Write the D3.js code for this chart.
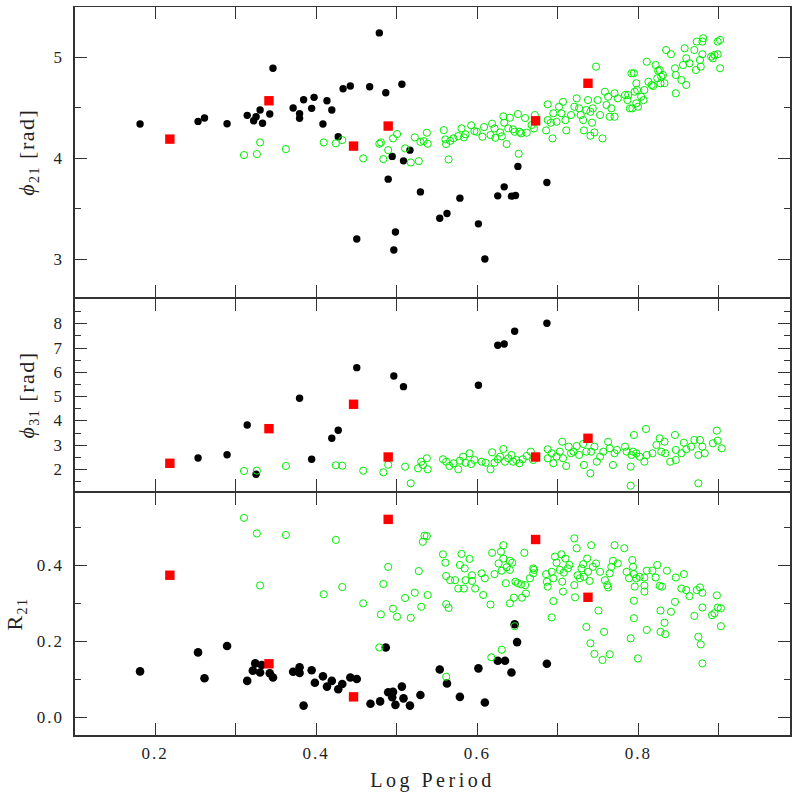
<!DOCTYPE html>
<html><head><meta charset="utf-8">
<script src="https://cdn.jsdelivr.net/npm/d3@7"></script>
<style>body{margin:0;background:#fff}</style>
</head><body>
<script>
// ---------------- DATA ----------------
const xTickValues = [0.2, 0.3, 0.4, 0.5, 0.6, 0.7, 0.8, 0.9];
const xTickLabels = [0.2, 0.4, 0.6, 0.8];
const xLabel = "Log Period";

const phi21Major = [3, 4, 5], phi21Minor = [3.5, 4.5];
const phi31Major = [2, 3, 4, 5, 6, 7, 8], phi31Minor = [1.5, 2.5, 3.5, 4.5, 5.5, 6.5, 7.5, 8.5];
const r21Major = [0, 0.2, 0.4], r21Minor = [0.1, 0.3, 0.5];

// red squares (Log P, phi21, phi31, R21)
const redLogP  = [0.219, 0.342, 0.447, 0.490, 0.673, 0.738];
const redPhi21 = [4.185, 4.564, 4.116, 4.314, 4.366, 4.737];
const redPhi31 = [2.235, 3.660, 4.665, 2.494, 2.494, 3.264];
const redR21   = [0.374, 0.141, 0.054, 0.521, 0.468, 0.316];

// black filled circles [logP, value]
const blackPhi21 = [
[0.182,4.334],[0.254,4.360],[0.262,4.393],[0.290,4.337],[0.315,4.420],[0.323,4.366],[0.326,4.406],
[0.331,4.472],[0.334,4.341],[0.343,4.433],[0.347,4.885],[0.372,4.492],[0.380,4.436],[0.380,4.390],
[0.385,4.574],[0.395,4.489],[0.398,4.598],[0.409,4.334],[0.414,4.564],[0.420,4.472],[0.428,4.208],
[0.434,4.683],[0.443,4.710],[0.451,3.198],[0.467,4.703],[0.479,5.235],[0.487,4.644],[0.490,3.789],
[0.495,4.014],[0.499,3.267],[0.497,3.089],[0.507,4.727],[0.517,4.076],[0.509,3.970],[0.530,3.663],
[0.554,3.403],[0.563,3.449],[0.579,3.601],[0.602,3.347],[0.610,3.000],[0.626,3.624],[0.634,3.713],
[0.643,3.621],[0.648,3.628],[0.651,3.915],[0.687,3.756]];

const blackPhi31 = [
[0.254,2.453],[0.290,2.589],[0.315,3.812],[0.326,1.782],[0.380,4.912],[0.395,2.400],[0.420,3.264],
[0.428,3.594],[0.451,6.172],[0.497,5.830],[0.509,5.390],[0.602,5.447],[0.626,7.095],[0.634,7.148],
[0.647,7.671],[0.687,8.001]];

const blackR21 = [
[0.182,0.121],[0.254,0.171],[0.262,0.103],[0.290,0.188],[0.315,0.096],[0.322,0.123],[0.325,0.142],
[0.331,0.118],[0.333,0.138],[0.343,0.116],[0.347,0.105],[0.372,0.120],[0.380,0.132],[0.380,0.117],
[0.385,0.031],[0.395,0.124],[0.399,0.091],[0.409,0.108],[0.414,0.081],[0.420,0.096],[0.428,0.074],
[0.433,0.088],[0.443,0.105],[0.451,0.101],[0.468,0.036],[0.480,0.042],[0.487,0.184],[0.490,0.066],
[0.496,0.067],[0.495,0.053],[0.499,0.033],[0.507,0.081],[0.509,0.050],[0.517,0.031],[0.530,0.059],
[0.554,0.126],[0.563,0.089],[0.579,0.054],[0.602,0.129],[0.610,0.039],[0.626,0.149],[0.635,0.149],
[0.643,0.118],[0.650,0.198],[0.647,0.245],[0.687,0.141]];

// green open circles [logP, value]
const greenPhi21 = [
[0.311,4.027],[0.327,4.037],[0.331,4.152],[0.363,4.086],[0.410,4.152],[0.425,4.143],[0.433,4.175],
[0.459,3.994],[0.479,4.139],[0.481,4.152],[0.490,4.076],[0.484,3.987],[0.496,4.192],[0.501,4.235],
[0.511,4.093],[0.518,3.954],[0.528,3.967],[0.523,4.202],[0.530,4.158],[0.534,4.165],[0.538,4.248],
[0.539,4.139],[0.559,4.274],[0.561,4.182],[0.562,4.136],[0.565,3.984],[0.567,4.168],[0.571,4.192],
[0.577,4.215],[0.581,4.291],[0.584,4.202],[0.586,4.232],[0.593,4.321],[0.597,4.264],[0.600,4.257],
[0.607,4.208],[0.609,4.304],[0.617,4.225],[0.619,4.337],[0.622,4.291],[0.623,4.198],[0.629,4.251],
[0.631,4.212],[0.633,4.410],[0.634,4.347],[0.637,4.136],[0.639,4.291],[0.641,4.396],[0.645,4.281],
[0.647,4.257],[0.651,4.433],[0.652,4.040],[0.653,4.257],[0.655,4.242],[0.660,4.393],[0.662,4.248],
[0.668,4.324],[0.671,4.291],[0.686,4.271],[0.688,4.529],[0.692,4.347],[0.694,4.192],[0.695,4.440],
[0.699,4.356],[0.702,4.505],[0.705,4.440],[0.707,4.554],[0.710,4.373],[0.711,4.271],[0.717,4.423],
[0.721,4.505],[0.724,4.588],[0.727,4.489],[0.729,4.423],[0.732,4.373],[0.733,4.271],[0.736,4.472],
[0.738,4.571],[0.741,4.455],[0.744,4.489],[0.741,4.218],[0.746,4.251],[0.748,4.901],[0.750,4.571],
[0.753,4.423],[0.756,4.192],[0.759,4.653],[0.761,4.522],[0.765,4.406],[0.767,4.489],[0.771,4.638],
[0.771,4.406],[0.775,4.588],[0.784,4.621],[0.788,4.621],[0.790,4.489],[0.792,4.836],[0.795,4.836],
[0.796,4.653],[0.798,4.539],[0.798,4.737],[0.800,4.505],[0.804,4.604],[0.807,4.571],[0.808,4.670],
[0.811,4.950],[0.813,4.752],[0.817,4.720],[0.822,4.918],[0.824,4.786],[0.827,4.868],[0.829,4.802],
[0.831,4.819],[0.828,4.737],[0.835,5.066],[0.841,5.024],[0.846,4.885],[0.847,4.819],[0.847,4.638],
[0.854,4.769],[0.856,4.918],[0.858,5.083],[0.860,4.720],[0.860,4.984],[0.864,4.935],[0.870,5.066],
[0.872,4.868],[0.873,5.149],[0.877,4.967],[0.878,4.901],[0.880,5.149],[0.880,5.024],[0.881,5.182],
[0.891,5.000],[0.893,4.984],[0.895,5.017],[0.899,5.149],[0.902,5.165],[0.902,4.885],[0.825,4.861],
[0.899,5.024],[0.787,4.571],[0.793,4.489],[0.799,4.670],[0.819,4.710],[0.833,4.737],[0.743,4.347],
[0.763,4.604],[0.672,4.423],[0.688,4.373]];

const greenPhi31 = [
[0.311,1.918],[0.327,1.930],[0.363,2.124],[0.425,2.152],[0.433,2.136],[0.459,1.930],[0.484,1.864],
[0.490,2.177],[0.511,2.095],[0.518,1.411],[0.527,2.029],[0.531,2.301],[0.538,2.441],[0.539,1.988],
[0.558,2.400],[0.562,2.301],[0.566,2.124],[0.571,2.235],[0.577,1.988],[0.579,2.342],[0.583,2.507],
[0.586,2.259],[0.591,2.647],[0.593,2.206],[0.597,2.371],[0.606,2.301],[0.611,2.259],[0.617,1.988],
[0.619,2.688],[0.622,2.259],[0.626,2.400],[0.629,2.507],[0.633,2.824],[0.635,2.301],[0.639,2.441],
[0.643,2.577],[0.645,2.301],[0.649,2.371],[0.653,2.235],[0.657,2.400],[0.662,2.535],[0.667,2.713],
[0.670,2.371],[0.688,2.811],[0.688,2.441],[0.693,2.647],[0.695,2.235],[0.699,2.507],[0.703,2.713],
[0.706,3.124],[0.707,2.441],[0.711,2.124],[0.714,2.918],[0.717,2.647],[0.720,2.713],[0.724,2.947],
[0.727,2.577],[0.732,3.030],[0.733,2.165],[0.736,2.713],[0.741,1.823],[0.742,2.713],[0.746,2.918],
[0.749,2.301],[0.753,2.507],[0.757,2.713],[0.763,3.124],[0.765,2.853],[0.769,2.165],[0.771,2.647],
[0.774,2.783],[0.784,2.918],[0.786,2.713],[0.791,2.095],[0.792,2.577],[0.794,2.713],[0.795,3.400],
[0.798,2.647],[0.802,2.507],[0.808,2.301],[0.810,3.647],[0.811,2.577],[0.818,2.647],[0.823,2.988],
[0.827,3.264],[0.829,2.713],[0.833,3.124],[0.834,2.647],[0.840,2.301],[0.846,3.400],[0.847,2.371],
[0.847,2.783],[0.854,2.647],[0.857,3.083],[0.860,2.811],[0.866,2.918],[0.870,3.194],[0.875,2.577],
[0.877,3.194],[0.880,2.918],[0.883,2.647],[0.893,3.058],[0.898,3.577],[0.899,3.166],[0.904,2.853],
[0.791,1.312],[0.875,1.411],[0.533,2.165]];

const greenR21 = [
[0.311,0.525],[0.327,0.484],[0.331,0.347],[0.363,0.480],[0.410,0.324],[0.425,0.467],[0.433,0.343],
[0.459,0.300],[0.479,0.184],[0.481,0.271],[0.484,0.351],[0.490,0.396],[0.496,0.286],[0.501,0.265],
[0.511,0.314],[0.518,0.262],[0.523,0.328],[0.528,0.385],[0.531,0.291],[0.533,0.462],[0.535,0.478],
[0.538,0.477],[0.539,0.322],[0.558,0.429],[0.561,0.407],[0.562,0.372],[0.562,0.298],[0.565,0.288],
[0.567,0.361],[0.573,0.361],[0.577,0.339],[0.579,0.401],[0.581,0.430],[0.584,0.339],[0.585,0.392],
[0.586,0.361],[0.591,0.417],[0.594,0.374],[0.594,0.359],[0.598,0.339],[0.606,0.379],[0.608,0.322],
[0.610,0.366],[0.617,0.297],[0.619,0.433],[0.622,0.377],[0.618,0.158],[0.631,0.178],[0.627,0.405],
[0.630,0.436],[0.631,0.386],[0.633,0.453],[0.633,0.418],[0.636,0.353],[0.637,0.395],[0.641,0.412],
[0.641,0.388],[0.644,0.407],[0.641,0.300],[0.646,0.315],[0.647,0.240],[0.648,0.357],[0.651,0.353],
[0.655,0.350],[0.656,0.315],[0.659,0.433],[0.660,0.348],[0.661,0.326],[0.666,0.366],[0.670,0.392],
[0.670,0.379],[0.671,0.388],[0.686,0.377],[0.687,0.357],[0.688,0.344],[0.693,0.383],[0.693,0.263],
[0.695,0.306],[0.695,0.366],[0.697,0.423],[0.699,0.407],[0.703,0.388],[0.705,0.429],[0.706,0.357],
[0.707,0.331],[0.708,0.381],[0.710,0.418],[0.713,0.392],[0.715,0.401],[0.721,0.471],[0.721,0.348],
[0.722,0.316],[0.724,0.445],[0.725,0.374],[0.728,0.366],[0.730,0.392],[0.732,0.403],[0.733,0.370],
[0.736,0.238],[0.737,0.418],[0.738,0.383],[0.740,0.359],[0.741,0.195],[0.742,0.453],[0.744,0.396],
[0.746,0.167],[0.748,0.405],[0.751,0.281],[0.753,0.383],[0.756,0.151],[0.758,0.225],[0.759,0.361],
[0.762,0.348],[0.763,0.342],[0.765,0.379],[0.765,0.166],[0.767,0.396],[0.769,0.412],[0.771,0.453],
[0.775,0.405],[0.783,0.445],[0.786,0.383],[0.789,0.366],[0.791,0.208],[0.793,0.414],[0.794,0.396],
[0.795,0.377],[0.795,0.307],[0.795,0.261],[0.796,0.344],[0.798,0.366],[0.800,0.155],[0.802,0.370],
[0.808,0.368],[0.808,0.347],[0.808,0.331],[0.811,0.386],[0.811,0.230],[0.818,0.386],[0.822,0.368],
[0.824,0.401],[0.827,0.346],[0.828,0.281],[0.828,0.225],[0.830,0.344],[0.833,0.249],[0.834,0.219],
[0.836,0.386],[0.841,0.278],[0.846,0.304],[0.847,0.368],[0.854,0.339],[0.857,0.377],[0.860,0.335],
[0.864,0.319],[0.870,0.267],[0.873,0.335],[0.875,0.212],[0.877,0.342],[0.878,0.192],[0.880,0.328],
[0.880,0.289],[0.880,0.142],[0.892,0.269],[0.895,0.274],[0.898,0.321],[0.899,0.289],[0.903,0.287],
[0.903,0.240],[0.562,0.107]];

// ---------------- DRAWING ----------------
const W = 797, H = 797;
const L = 74, R = 791;
const INK = "#333";
const FONT = "'Liberation Serif','DejaVu Serif',serif";

const svg = d3.select("body").append("svg")
  .attr("width", W).attr("height", H)
  .style("background", "#fff");

const x = d3.scaleLinear().domain([0.1, 0.99]).range([L, R]);

const panels = [
  { top: 6.5, bottom: 298, domain: [2.614, 5.496], major: phi21Major, minor: phi21Minor,
    fmt: d3.format("d"), green: greenPhi21, black: blackPhi21, red: redPhi21,
    sym: "\u03D5", sub: "21", unit: " [rad]", labX: 34, italic: true, br: 3.7 },
  { top: 298, bottom: 492, domain: [1.053, 9.04], major: phi31Major, minor: phi31Minor,
    fmt: d3.format("d"), green: greenPhi31, black: blackPhi31, red: redPhi31,
    sym: "\u03D5", sub: "31", unit: " [rad]", labX: 34, italic: true, br: 3.7 },
  { top: 492, bottom: 736, domain: [-0.049, 0.593], major: r21Major, minor: r21Minor,
    fmt: d3.format(".1f"), green: greenR21, black: blackR21, red: redR21,
    sym: "R", sub: "21", unit: "", labX: 22, italic: false, br: 4.3 }
];

function styleAxis(sel, showText) {
  sel.select(".domain").remove();
  sel.selectAll(".tick line").attr("stroke", INK).attr("stroke-width", 1)
     .attr("shape-rendering", "crispEdges");
  sel.attr("font-family", FONT).attr("font-size", 17);
  sel.selectAll(".tick text").attr("fill", "#222").style("letter-spacing", "2px");
  if (!showText) sel.selectAll(".tick text").remove();
}

panels.forEach((p, i) => {
  const isLast = i === panels.length - 1;
  const y = d3.scaleLinear().domain(p.domain).range([p.bottom, p.top]);
  const g = svg.append("g");

  const clipId = "clip" + i;
  svg.append("clipPath").attr("id", clipId).append("rect")
    .attr("x", L).attr("y", p.top).attr("width", R - L).attr("height", p.bottom - p.top);

  // x ticks: bottom & top edge (inward)
  g.append("g").attr("transform", `translate(0,${p.bottom})`)
    .call(d3.axisBottom(x).tickValues(xTickValues).tickSizeInner(-12.7).tickSizeOuter(0)
      .tickPadding(11)
      .tickFormat(d => (isLast && xTickLabels.includes(d)) ? d3.format(".1f")(d) : ""))
    .call(s => styleAxis(s, isLast));
  g.append("g").attr("transform", `translate(0,${p.top})`)
    .call(d3.axisTop(x).tickValues(xTickValues).tickSizeInner(-12.7).tickSizeOuter(0))
    .call(s => styleAxis(s, false));

  // y ticks: left (labels) & right
  g.append("g").attr("transform", `translate(${L},0)`)
    .call(d3.axisLeft(y).tickValues(p.major).tickSizeInner(-12.7).tickSizeOuter(0)
      .tickPadding(10).tickFormat(p.fmt))
    .call(s => styleAxis(s, true));
  g.append("g").attr("transform", `translate(${L},0)`)
    .call(d3.axisLeft(y).tickValues(p.minor).tickSizeInner(-7).tickSizeOuter(0))
    .call(s => styleAxis(s, false));
  g.append("g").attr("transform", `translate(${R},0)`)
    .call(d3.axisRight(y).tickValues(p.major).tickSizeInner(-12.7).tickSizeOuter(0))
    .call(s => styleAxis(s, false));
  g.append("g").attr("transform", `translate(${R},0)`)
    .call(d3.axisRight(y).tickValues(p.minor).tickSizeInner(-7).tickSizeOuter(0))
    .call(s => styleAxis(s, false));

  // marks
  const m = svg.append("g").attr("clip-path", `url(#${clipId})`);
  m.selectAll("circle.blk").data(p.black).join("circle").attr("class", "blk")
    .attr("cx", d => x(d[0])).attr("cy", d => y(d[1])).attr("r", p.br).attr("fill", "#000");
  m.selectAll("circle.grn").data(p.green).join("circle").attr("class", "grn")
    .attr("cx", d => x(d[0])).attr("cy", d => y(d[1])).attr("r", 3.6)
    .attr("fill", "none").attr("stroke", "#00ee00").attr("stroke-width", 1);
  m.selectAll("rect.red").data(redLogP.map((v, k) => [v, p.red[k]])).join("rect").attr("class", "red")
    .attr("x", d => x(d[0]) - 4.7).attr("y", d => y(d[1]) - 4.7)
    .attr("width", 9.4).attr("height", 9.4).attr("fill", "#ff0000");

  // frame
  svg.append("rect").attr("x", L).attr("y", p.top).attr("width", R - L).attr("height", p.bottom - p.top)
    .attr("fill", "none").attr("stroke", INK).attr("stroke-width", 1.2).attr("shape-rendering", "crispEdges");

  // y label
  const t = svg.append("text")
    .attr("transform", `translate(${p.labX},${(p.top + p.bottom) / 2}) rotate(-90)`)
    .attr("text-anchor", "middle").attr("font-family", FONT).attr("font-size", 22)
    .attr("fill", "#222").style("letter-spacing", "1.5px");
  t.append("tspan").text(p.sym).attr("font-style", p.italic ? "italic" : "normal");
  t.append("tspan").text(p.sub).attr("font-size", 14).attr("dy", 5);
  if (p.unit) t.append("tspan").text(p.unit).attr("dy", -5);
});

// x label
svg.append("text").attr("x", (L + R) / 2).attr("y", 786.5).attr("text-anchor", "middle")
  .attr("font-family", FONT).attr("font-size", 20).attr("fill", "#222")
  .style("letter-spacing", "3.5px").text(xLabel);
</script>
</body></html>
